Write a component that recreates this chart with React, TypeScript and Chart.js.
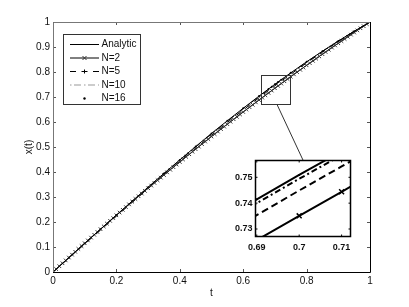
import React, { useEffect, useRef } from "react";
import { Chart, registerables } from "chart.js";

Chart.register(...registerables);

// ---------- data ----------
const fineT = [
  0, 0.01, 0.02, 0.03, 0.04, 0.05, 0.06, 0.07, 0.08, 0.09,
  0.1, 0.11, 0.12, 0.13, 0.14, 0.15, 0.16, 0.17, 0.18, 0.19,
  0.2, 0.21, 0.22, 0.23, 0.24, 0.25, 0.26, 0.27, 0.28, 0.29,
  0.3, 0.31, 0.32, 0.33, 0.34, 0.35, 0.36, 0.37, 0.38, 0.39,
  0.4, 0.41, 0.42, 0.43, 0.44, 0.45, 0.46, 0.47, 0.48, 0.49,
  0.5, 0.51, 0.52, 0.53, 0.54, 0.55, 0.56, 0.57, 0.58, 0.59,
  0.6, 0.61, 0.62, 0.63, 0.64, 0.65, 0.66, 0.67, 0.68, 0.69,
  0.7, 0.71, 0.72, 0.73, 0.74, 0.75, 0.76, 0.77, 0.78, 0.79,
  0.8, 0.81, 0.82, 0.83, 0.84, 0.85, 0.86, 0.87, 0.88, 0.89,
  0.9, 0.91, 0.92, 0.93, 0.94, 0.95, 0.96, 0.97, 0.98, 0.99, 1,
];
const n2Values = [
  0, 0.0117, 0.0233, 0.0349, 0.0464, 0.0579, 0.0694, 0.0809, 0.0923, 0.1037,
  0.115, 0.1263, 0.1376, 0.1489, 0.1601, 0.1713, 0.1824, 0.1936, 0.2046, 0.2157,
  0.2267, 0.2377, 0.2487, 0.2596, 0.2705, 0.2813, 0.2921, 0.3029, 0.3137, 0.3244,
  0.3351, 0.3457, 0.3563, 0.3669, 0.3775, 0.388, 0.3985, 0.4089, 0.4193, 0.4297,
  0.4401, 0.4504, 0.4607, 0.4709, 0.4811, 0.4913, 0.5015, 0.5116, 0.5217, 0.5317,
  0.5418, 0.5517, 0.5617, 0.5716, 0.5815, 0.5913, 0.6011, 0.6109, 0.6207, 0.6304,
  0.6401, 0.6497, 0.6593, 0.6689, 0.6785, 0.688, 0.6975, 0.7069, 0.7163, 0.7257,
  0.7351, 0.7444, 0.7537, 0.7629, 0.7721, 0.7813, 0.7905, 0.7996, 0.8087, 0.8177,
  0.8267, 0.8357, 0.8446, 0.8536, 0.8624, 0.8713, 0.8801, 0.8889, 0.8976, 0.9063,
  0.915, 0.9237, 0.9323, 0.9409, 0.9494, 0.9579, 0.9664, 0.9749, 0.9833, 0.9917, 1,
];

const coarseT = [
  0, 0.05, 0.1, 0.15, 0.2, 0.25, 0.3, 0.35, 0.4, 0.45, 0.5, 0.55, 0.6, 0.65,
  0.68, 0.69, 0.7, 0.71, 0.72, 0.75, 0.8, 0.85, 0.9, 0.95, 1,
];
const analyticValues = [
  0, 0.0572, 0.1144, 0.1713, 0.2279, 0.284, 0.3395, 0.3944, 0.4485, 0.5017, 0.5543, 0.6051, 0.655, 0.7036,
  0.7321, 0.7415, 0.7509, 0.7601, 0.7693, 0.7966, 0.8408, 0.8833, 0.9241, 0.963, 1,
];
const n5Values = [
  0, 0.0558, 0.1118, 0.1677, 0.2233, 0.2786, 0.3335, 0.3879, 0.4416, 0.4946, 0.5472, 0.598, 0.6481, 0.6971,
  0.7259, 0.7354, 0.7449, 0.7542, 0.7635, 0.7912, 0.8362, 0.8797, 0.9215, 0.9616, 1,
];
const n10Values = [
  0, 0.0569, 0.1138, 0.1704, 0.2268, 0.2827, 0.338, 0.3928, 0.4468, 0.4999, 0.5525, 0.6033, 0.6533, 0.702,
  0.7306, 0.74, 0.7494, 0.7586, 0.7679, 0.7953, 0.8397, 0.8824, 0.9235, 0.9627, 1,
];
const n16Values = [
  0, 0.0572, 0.1144, 0.1713, 0.2279, 0.284, 0.3395, 0.3944, 0.4485, 0.5017, 0.5543, 0.6051, 0.655, 0.7036,
  0.7321, 0.7415, 0.7509, 0.7601, 0.7693, 0.7966, 0.8408, 0.8833, 0.9241, 0.963, 1,
];

const seriesNames = ["Analytic", "N=2", "N=5", "N=10", "N=16"];

const mainXTicks = [0, 0.2, 0.4, 0.6, 0.8, 1];
const mainXTickLabels = ["0", "0.2", "0.4", "0.6", "0.8", "1"];
const mainYTicks = [0, 0.1, 0.2, 0.3, 0.4, 0.5, 0.6, 0.7, 0.8, 0.9, 1];
const mainYTickLabels = ["0", "0.1", "0.2", "0.3", "0.4", "0.5", "0.6", "0.7", "0.8", "0.9", "1"];
const xAxisTitle = "t";
const yAxisTitle = "x(t)";

const insetXTicks = [0.69, 0.7, 0.71];
const insetXTickLabels = ["0.69", "0.7", "0.71"];
const insetYTicks = [0.73, 0.74, 0.75];
const insetYTickLabels = ["0.73", "0.74", "0.75"];
const insetTRange = [0.6897, 0.7121];
const insetXRange = [0.7271, 0.7565];

// zoom box drawn on the main axes (data units) and connector end
const zoomBoxT = [0.655, 0.745];
const zoomBoxX = [0.672, 0.787];
const connectorStart = [0.706, 0.672];
const connectorEnd = [0.79, 0.444];

// ---------- styles ----------
const FONT = "'Liberation Sans', Arial, Helvetica, sans-serif";
const N5_DASH = [6, 5.5];
const N10_DASH = [1.5, 2.5, 7, 3];

const pts = (ts: number[], vs: number[]) => ts.map((t, i) => ({ x: t, y: vs[i] }));

function makeDatasets(inset: boolean) {
  const w = inset ? 2 : 1;
  return [
    {
      label: seriesNames[0],
      data: pts(coarseT, analyticValues),
      borderColor: "#000",
      borderWidth: w,
      pointRadius: 0,
      showLine: true,
      order: 0,
    },
    {
      label: seriesNames[1],
      data: pts(fineT, n2Values),
      borderColor: "#000",
      borderWidth: w,
      pointStyle: "crossRot",
      pointRadius: inset ? 3.5 : 2.5,
      pointBorderColor: inset ? "#000" : "#333",
      pointBorderWidth: inset ? 1.5 : 1,
      showLine: true,
      order: 1,
    },
    {
      label: seriesNames[2],
      data: pts(coarseT, n5Values),
      borderColor: "#000",
      borderWidth: w,
      borderDash: inset ? [7, 4] : N5_DASH,
      pointRadius: 0,
      showLine: true,
      order: 2,
    },
    {
      label: seriesNames[3],
      data: pts(coarseT, n10Values),
      borderColor: "#000",
      borderWidth: w,
      borderDash: inset ? [6, 3, 2, 3] : [7, 3, 1.5, 3],
      pointRadius: 0,
      showLine: true,
      order: 3,
    },
    {
      label: seriesNames[4],
      data: pts(coarseT, n16Values),
      borderColor: "#000",
      backgroundColor: "#000",
      pointStyle: "circle",
      pointRadius: 1,
      pointBorderWidth: 0,
      showLine: false,
      order: 4,
    },
  ];
}

function drawCross(ctx: CanvasRenderingContext2D, x: number, y: number, r: number, rot: boolean) {
  ctx.beginPath();
  if (rot) {
    ctx.moveTo(x - r, y - r); ctx.lineTo(x + r, y + r);
    ctx.moveTo(x - r, y + r); ctx.lineTo(x + r, y - r);
  } else {
    ctx.moveTo(x - r, y); ctx.lineTo(x + r, y);
    ctx.moveTo(x, y - r); ctx.lineTo(x, y + r);
  }
  ctx.stroke();
}

const mainDecor = {
  id: "mainDecor",
  afterDatasetsDraw(chart: any) {
    const { ctx, chartArea: a, scales } = chart;
    const sx = scales.x, sy = scales.y;
    ctx.save();
    // ticks (inside, on all 4 sides)
    ctx.strokeStyle = "#555";
    ctx.lineWidth = 1;
    ctx.beginPath();
    mainXTicks.forEach((v) => {
      const px = Math.round(sx.getPixelForValue(v)) + 0.5;
      ctx.moveTo(px, a.bottom); ctx.lineTo(px, a.bottom - 3);
      ctx.moveTo(px, a.top); ctx.lineTo(px, a.top + 3);
    });
    mainYTicks.forEach((v) => {
      const py = Math.round(sy.getPixelForValue(v)) + 0.5;
      ctx.moveTo(a.left, py); ctx.lineTo(a.left + 3, py);
      ctx.moveTo(a.right, py); ctx.lineTo(a.right - 3, py);
    });
    ctx.stroke();
    // frame
    ctx.strokeStyle = "#777";
    ctx.beginPath();
    ctx.moveTo(a.left + 0.5, a.bottom); ctx.lineTo(a.left + 0.5, a.top + 0.5); ctx.lineTo(a.right, a.top + 0.5);
    ctx.stroke();
    ctx.strokeStyle = "#000";
    ctx.beginPath();
    ctx.moveTo(a.left, a.bottom + 0.5); ctx.lineTo(a.right + 0.5, a.bottom + 0.5); ctx.lineTo(a.right + 0.5, a.top);
    ctx.stroke();

    // zoom box
    ctx.strokeStyle = "#333";
    const bx0 = sx.getPixelForValue(zoomBoxT[0]), bx1 = sx.getPixelForValue(zoomBoxT[1]);
    const by0 = sy.getPixelForValue(zoomBoxX[1]), by1 = sy.getPixelForValue(zoomBoxX[0]);
    ctx.strokeRect(Math.round(bx0) + 0.5, Math.round(by0) + 0.5, Math.round(bx1 - bx0), Math.round(by1 - by0));
    // connector
    ctx.beginPath();
    ctx.moveTo(sx.getPixelForValue(connectorStart[0]), sy.getPixelForValue(connectorStart[1]));
    ctx.lineTo(sx.getPixelForValue(connectorEnd[0]), sy.getPixelForValue(connectorEnd[1]));
    ctx.stroke();

    // legend
    const lx = 63.5, ly = 34.5, lw = 77, lh = 70;
    ctx.fillStyle = "#fff";
    ctx.fillRect(lx, ly, lw, lh);
    ctx.strokeStyle = "#333";
    ctx.strokeRect(lx, ly, lw, lh);
    const rows = [44.5, 58, 71.5, 85, 98.5];
    const x0 = 70, x1 = 99, xm = 84.5;
    ctx.lineWidth = 1;
    // Analytic
    ctx.strokeStyle = "#000";
    ctx.beginPath(); ctx.moveTo(x0, rows[0]); ctx.lineTo(x1, rows[0]); ctx.stroke();
    // N=2
    ctx.beginPath(); ctx.moveTo(x0, rows[1]); ctx.lineTo(x1, rows[1]); ctx.stroke();
    ctx.strokeStyle = "#333";
    drawCross(ctx, xm, rows[1], 2, true);
    // N=5
    ctx.strokeStyle = "#000";
    ctx.setLineDash(N5_DASH);
    ctx.beginPath(); ctx.moveTo(x0, rows[2]); ctx.lineTo(x1, rows[2]); ctx.stroke();
    ctx.setLineDash([]);
    drawCross(ctx, xm, rows[2], 2, false);
    // N=10
    ctx.strokeStyle = "#999";
    ctx.setLineDash(N10_DASH);
    ctx.beginPath(); ctx.moveTo(x0, rows[3]); ctx.lineTo(x1, rows[3]); ctx.stroke();
    ctx.setLineDash([]);
    // N=16
    ctx.fillStyle = "#000";
    ctx.beginPath(); ctx.arc(xm, rows[4], 1.2, 0, Math.PI * 2); ctx.fill();
    // labels
    ctx.fillStyle = "#111";
    ctx.font = `10px ${FONT}`;
    ctx.textBaseline = "middle";
    ctx.textAlign = "left";
    seriesNames.forEach((n, i) => ctx.fillText(n, 101.5, rows[i]));
    ctx.restore();
  },
};

const insetDecor = {
  id: "insetDecor",
  beforeDatasetsDraw(chart: any) {
    const { ctx, chartArea: a } = chart;
    ctx.save();
    ctx.fillStyle = "#fff";
    ctx.fillRect(a.left, a.top, a.right - a.left, a.bottom - a.top);
    ctx.restore();
  },
  afterDatasetsDraw(chart: any) {
    const { ctx, chartArea: a, scales } = chart;
    ctx.save();
    ctx.strokeStyle = "#000";
    ctx.lineWidth = 1;
    ctx.beginPath();
    insetXTicks.forEach((v) => {
      const px = scales.x.getPixelForValue(v);
      ctx.moveTo(px, a.bottom); ctx.lineTo(px, a.bottom - 2);
      ctx.moveTo(px, a.top); ctx.lineTo(px, a.top + 2);
    });
    insetYTicks.forEach((v) => {
      const py = scales.y.getPixelForValue(v);
      ctx.moveTo(a.left, py); ctx.lineTo(a.left + 2, py);
      ctx.moveTo(a.right, py); ctx.lineTo(a.right - 2, py);
    });
    ctx.stroke();
    ctx.lineWidth = 1.5;
    ctx.strokeRect(a.left, a.top, a.right - a.left, a.bottom - a.top);
    ctx.restore();
  },
};

function axisCommon(ticks: number[], labels: string[], fontSpec: any, padding: number) {
  return {
    type: "linear" as const,
    afterBuildTicks: (s: any) => {
      s.ticks = ticks.map((v) => ({ value: v }));
    },
    grid: { display: false, drawTicks: false },
    border: { display: false },
    ticks: {
      autoSkip: false,
      maxRotation: 0,
      minRotation: 0,
      padding,
      color: "#111",
      font: fontSpec,
      callback: (_v: any, i: number) => labels[i],
    },
  };
}

export default function App() {
  const mainRef = useRef<HTMLCanvasElement>(null);
  const insetRef = useRef<HTMLCanvasElement>(null);

  useEffect(() => {
    const tickFont = { family: FONT, size: 10 };
    const main = new Chart(mainRef.current!, {
      type: "scatter",
      data: { datasets: makeDatasets(false) as any },
      options: {
        animation: false,
        responsive: false,
        devicePixelRatio: 1,
        layout: { padding: { left: 0, top: 22, right: 39, bottom: 0 } },
        plugins: { legend: { display: false }, tooltip: { enabled: false } },
        events: [],
        scales: {
          x: {
            ...axisCommon(mainXTicks, mainXTickLabels, tickFont, 3),
            min: 0,
            max: 1,
            afterFit: (s: any) => { s.height = 35; },
            title: { display: true, text: xAxisTitle, color: "#111", font: tickFont, padding: { top: 0, bottom: 8 } },
          },
          y: {
            ...axisCommon(mainYTicks, mainYTickLabels, tickFont, 3),
            min: 0,
            max: 1,
            afterFit: (s: any) => { s.width = 53; },
            title: { display: true, text: yAxisTitle, color: "#111", font: tickFont, padding: { top: 23, bottom: 0 } },
          },
        },
      } as any,
      plugins: [mainDecor],
    });

    const insetFont = { family: FONT, size: 9, weight: "bold" };
    const inset = new Chart(insetRef.current!, {
      type: "scatter",
      data: { datasets: makeDatasets(true) as any },
      options: {
        animation: false,
        responsive: false,
        devicePixelRatio: 1,
        layout: { padding: { left: 0, top: 10.5, right: 9.5, bottom: 0 } },
        plugins: { legend: { display: false }, tooltip: { enabled: false } },
        events: [],
        scales: {
          x: {
            ...axisCommon(insetXTicks, insetXTickLabels, insetFont, 6),
            min: insetTRange[0],
            max: insetTRange[1],
            afterFit: (s: any) => { s.height = 63.5; },
          },
          y: {
            ...axisCommon(insetYTicks, insetYTickLabels, insetFont, 3),
            min: insetXRange[0],
            max: insetXRange[1],
            afterFit: (s: any) => { s.width = 45.5; },
          },
        },
      } as any,
      plugins: [insetDecor],
    });

    return () => {
      main.destroy();
      inset.destroy();
    };
  }, []);

  return (
    <div style={{ position: "absolute", left: 0, top: 0, width: 409, height: 307, background: "#fff" }}>
      <canvas ref={mainRef} width={409} height={307} style={{ position: "absolute", left: 0, top: 0 }} />
      <canvas ref={insetRef} width={150} height={150} style={{ position: "absolute", left: 210, top: 150 }} />
    </div>
  );
}
